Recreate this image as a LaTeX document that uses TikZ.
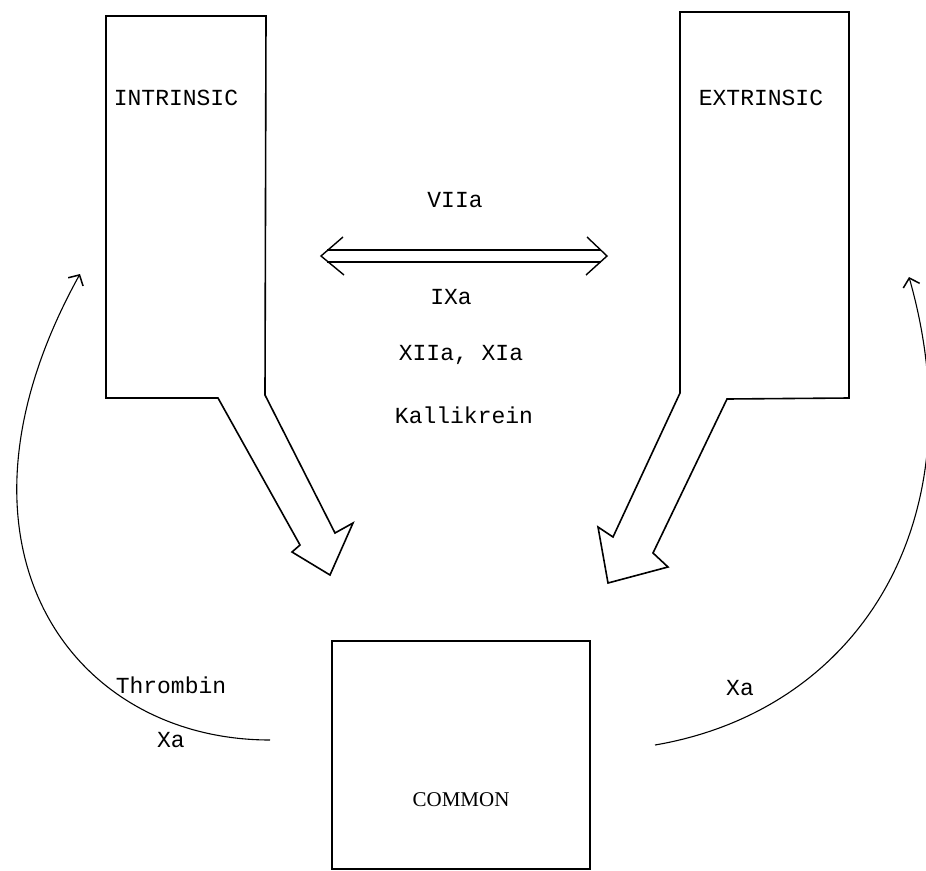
\documentclass[tikz,border=0pt]{standalone}
\usepackage{fontspec}
\setmonofont{Liberation Mono}
\newfontfamily\serifcommon{Liberation Serif}
\usetikzlibrary{arrows.meta,calc}
\begin{document}
\begin{tikzpicture}[x=1pt,y=-1pt,
  outline/.style={draw=black,line width=1.6pt,line join=miter},
  thinline/.style={draw=black,line width=1.4pt},
  lbl/.style={font=\ttfamily\fontsize{23}{26}\selectfont,inner sep=0pt},
  curvearrow/.style={draw=black,line width=1.1pt,-{Straight Barb[length=8pt,width=17pt,line width=1.5pt]}}]
\useasboundingbox (0,0) rectangle (926,870);
% INTRINSIC box + arrow
\draw[outline] (266,16) -- (106,16) -- (106,398) -- (218,398) -- (300,545) -- (292,552) -- (330,575) -- (353,523) -- (335,533) -- (265,395) -- cycle;
\node[lbl] (intr) at (176,98) {INTRINSIC};
% EXTRINSIC box + arrow
\draw[outline] (680,12) -- (849,12) -- (849,398) -- (727,399) -- (653,553) -- (668,567) -- (608,583) -- (598,527) -- (613,537) -- (680,393) -- cycle;
\node[lbl] (extr) at (761,98) {EXTRINSIC};
% COMMON box
\node[outline,minimum width=258pt,minimum height=228pt,inner sep=0pt,anchor=north west] (common) at (331,640) {};
\node[font=\serifcommon\fontsize{21}{24}\selectfont,inner sep=0pt] (commontxt) at (461,800) {COMMON};
% double arrow
\node[lbl] (vii) at (455,200) {VIIa};
\coordinate (dl) at (321,256);
\coordinate (dr) at (607,256);
\draw[thinline] ($(dl)+(6,-6)$) -- ($(dr)+(-6,-6)$);
\draw[thinline] ($(dl)+(6,6)$) -- ($(dr)+(-6,6)$);
\draw[thinline,line join=miter] ($(dl)+(22,-19)$) -- (dl) -- ($(dl)+(23,19)$);
\draw[thinline,line join=miter] ($(dr)+(-20,-19)$) -- (dr) -- ($(dr)+(-21,19)$);
% middle labels
\node[lbl] (ixa) at (451,297) {IXa};
\node[lbl] (xiia) at (461,355) {XIIa, XIa};
\node[lbl] (kall) at (464,415) {Kallikrein};
% side labels
\node[lbl] (thr) at (171,685) {Thrombin};
\node[lbl] (xal) at (171,740) {Xa};
\node[lbl] (xar) at (740,688) {Xa};
% curved arrows
\coordinate (ls) at (270,740);
\coordinate (le) at (80,274);
\coordinate (rs) at (655,745);
\coordinate (re) at (909,277);
\draw[curvearrow] (ls) .. controls (70,740) and (-70,545) .. (le);
\draw[curvearrow] (rs) .. controls (860,710) and (978,520) .. (re);
\end{tikzpicture}
\end{document}
